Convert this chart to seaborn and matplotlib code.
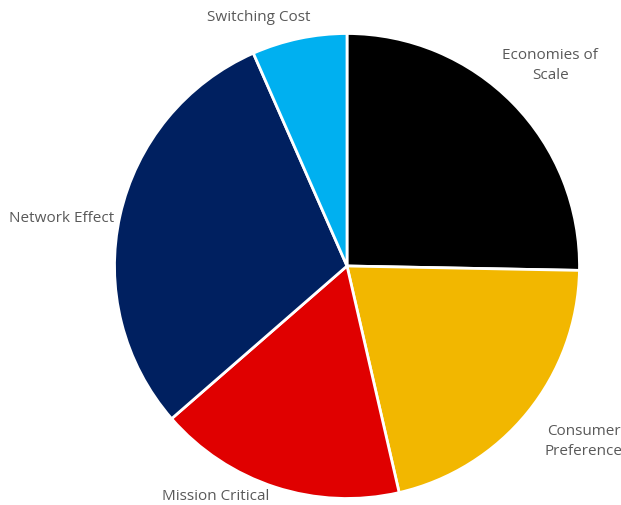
import matplotlib
matplotlib.use("Agg")
import matplotlib.pyplot as plt
import seaborn as sns
import numpy as np

categories = ["Economies of\nScale", "Consumer\nPreference", "Mission Critical", "Network Effect", "Switching Cost"]
values = [25.3, 21.1, 17.2, 29.8, 6.6]
colors = ["#000000", "#F2B700", "#E00000", "#002060", "#00B0F0"]

sns.set_theme(style="white")
plt.rcParams['font.family'] = ['Open Sans', 'DejaVu Sans']

fig = plt.figure(figsize=(6.21, 5.06), dpi=100)
# pie center ~ (347, 267) px, radius ~232 px
cx, cy, r = 347, 267, 232.5
W, H = 621, 506
ax = fig.add_axes([(cx - r) / W, (H - cy - r) / H, 2 * r / W, 2 * r / H])
wedges, texts = ax.pie(values, colors=colors, startangle=90, counterclock=False,
                       labels=categories, labeldistance=1.2,
                       wedgeprops=dict(edgecolor="white", linewidth=2),
                       textprops=dict(color="#595959", fontsize=11))
ax.set_xlim(-1, 1)
ax.set_ylim(-1, 1)
ax.set_aspect("equal")

label_pos = [(0.875, 0.866), (1.017, -0.75), (-0.565, -0.988), (-1.228, 0.207), (-0.379, 1.072)]
for t, (x, y) in zip(texts, label_pos):
    t.set_position((x, y))
    t.set_ha("center")
    t.set_va("center")
    t.set_multialignment("center")
    t.set_linespacing(1.45)
    t.set_clip_on(False)

fig.savefig("out.png", dpi=100)
